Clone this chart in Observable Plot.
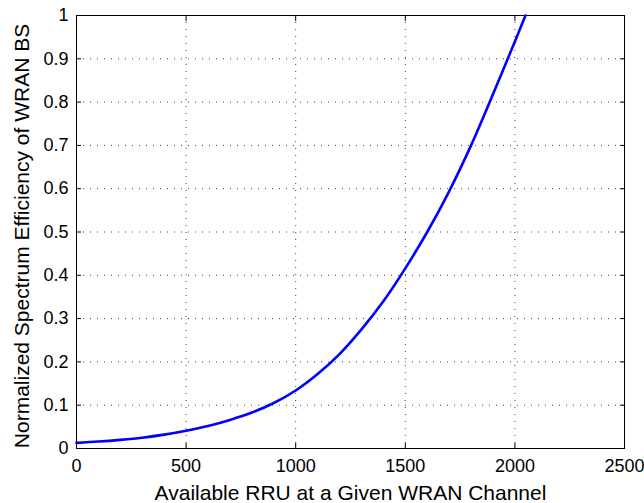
<!DOCTYPE html>
<html>
<head>
<meta charset="utf-8">
<script src="https://cdn.jsdelivr.net/npm/d3@7"></script>
<script src="https://cdn.jsdelivr.net/npm/@observablehq/plot@0.6"></script>
<style>
  html, body { margin: 0; padding: 0; background: #fff; }
  #chart { width: 644px; height: 503px; }
</style>
</head>
<body>
<div id="chart"></div>
<script>
// Available RRU on a WRAN channel and the resulting normalized spectrum efficiency
const rru = [0, 100, 200, 300, 400, 500, 600, 700, 800, 900, 1000, 1100, 1200,
             1300, 1400, 1500, 1600, 1700, 1800, 1900, 2000, 2048];
const efficiency = [0.013, 0.016, 0.020, 0.025, 0.032, 0.041, 0.052, 0.066, 0.083,
                    0.105, 0.134, 0.172, 0.218, 0.275, 0.340, 0.416, 0.500, 0.594,
                    0.700, 0.818, 0.940, 1.0];

const xTicks = [0, 500, 1000, 1500, 2000, 2500];
const xTickLabels = ["0", "500", "1000", "1500", "2000", "2500"];
const yTicks = [0, 0.1, 0.2, 0.3, 0.4, 0.5, 0.6, 0.7, 0.8, 0.9, 1];
const yTickLabels = ["0", "0.1", "0.2", "0.3", "0.4", "0.5", "0.6", "0.7", "0.8", "0.9", "1"];

const xTitle = "Available RRU at a Given WRAN Channel";
const yTitle = "Normalized Spectrum Efficiency of WRAN BS";

const data = rru.map((x, i) => ({x, y: efficiency[i]}));
const xFmt = d => xTickLabels[xTicks.indexOf(d)];
const yFmt = d => yTickLabels[yTicks.findIndex(t => Math.abs(t - d) < 1e-9)];
const blank = () => "";

const grid = {stroke: "#000", strokeOpacity: 0.75, strokeDasharray: "1,6"};

const chart = Plot.plot({
  width: 644,
  height: 503,
  marginLeft: 76,
  marginRight: 20,
  marginTop: 15,
  marginBottom: 55,
  style: {
    fontFamily: "'Liberation Sans', Arial, Helvetica, sans-serif",
    fontSize: "18px",
    color: "#000",
    background: "#fff",
    overflow: "visible"
  },
  x: {domain: [0, 2500]},
  y: {domain: [0, 1]},
  marks: [
    Plot.gridX(xTicks, grid),
    Plot.gridY(yTicks, grid),
    Plot.axisX(xTicks, {anchor: "bottom", tickSize: -5, tickPadding: 16, tickFormat: xFmt, label: null}),
    Plot.axisX(xTicks, {anchor: "top", tickSize: -5, tickFormat: blank, label: null}),
    Plot.axisY(yTicks, {anchor: "left", tickSize: -5, tickPadding: 13, tickFormat: yFmt, label: null}),
    Plot.axisY(yTicks, {anchor: "right", tickSize: -5, tickFormat: blank, label: null}),
    Plot.frame({stroke: "#000", strokeWidth: 1}),
    Plot.line(data, {x: "x", y: "y", stroke: "#0000ff", strokeWidth: 2.6, curve: "catmull-rom"}),
    Plot.text([xTitle], {
      frameAnchor: "bottom", text: d => d, textAnchor: "middle", lineAnchor: "bottom",
      dy: 51, fontSize: 21
    }),
    Plot.text([yTitle], {
      frameAnchor: "left", text: d => d, textAnchor: "middle", rotate: -90, lineAnchor: "bottom",
      dx: -48, dy: 4, fontSize: 21
    })
  ]
});

document.getElementById("chart").appendChild(chart);
</script>
</body>
</html>
